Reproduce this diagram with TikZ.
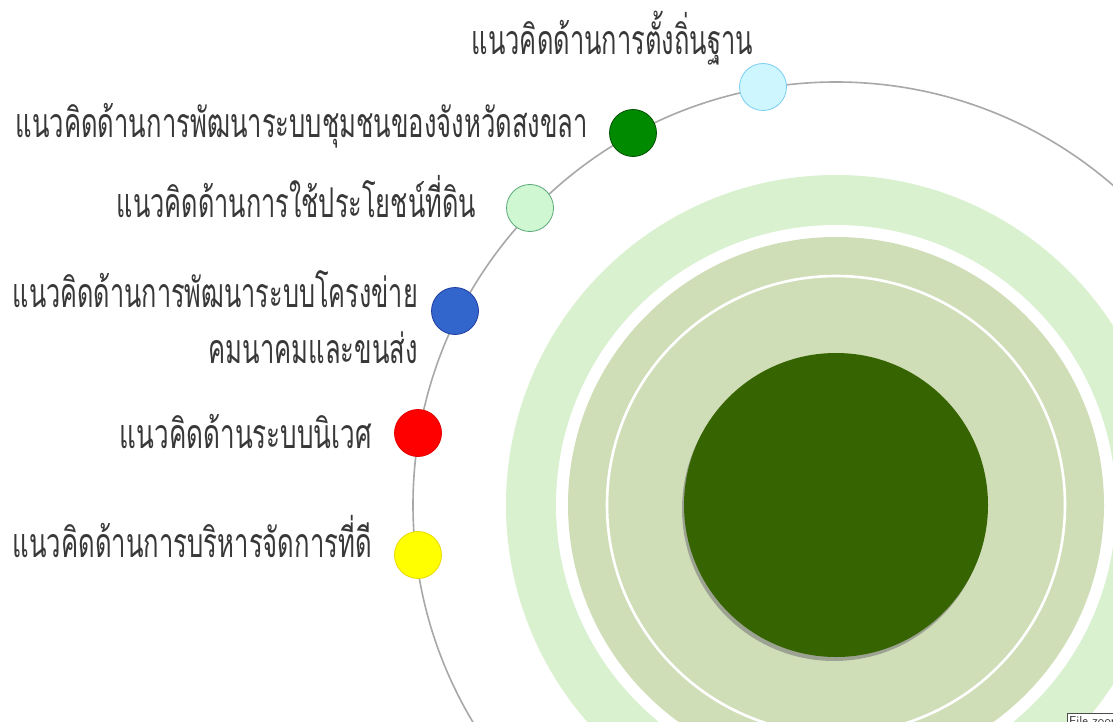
\documentclass[tikz,border=0pt]{standalone}
\usepackage{fontspec}
\usepackage{graphicx}
\newfontfamily\thai[Script=Thai]{Loma}
\newlength\thaiht
\definecolor{ringlight}{HTML}{D9F1CF}
\definecolor{ringsage}{HTML}{D0DEB8}
\definecolor{coregreen}{HTML}{366400}
\definecolor{arcgray}{HTML}{A8A8A8}
\definecolor{txt}{HTML}{383838}
\begin{document}
{\thai\fontsize{40pt}{48pt}\selectfont\global\thaiht=\fontcharht\font"0E19\relax}
\pgfmathsetmacro\thaisz{40*23/\thaiht}
\newcommand\tl[2]{\resizebox{#1}{\height}{\thai\fontsize{\thaisz pt}{\thaisz pt}\selectfont #2}}
\begin{tikzpicture}[x=1pt,y=-1pt,
  dot/.style={circle, minimum size=47pt, inner sep=0pt, line width=0.8pt},
  lbl/.style={anchor=base east, inner sep=0pt, text=txt},
  arcline/.style={draw=arcgray, line width=1.6pt}]
\useasboundingbox (0,0) rectangle (1113,722);
\clip (0,0) rectangle (1113,722);
\fill[white] (0,0) rectangle (1113,722);
% concentric rings
\fill[ringlight] (836,505) circle (330pt);
\fill[white] (836,505) circle (280pt);
\fill[ringsage] (836,505) circle (268pt);
\draw[white, line width=2.6pt] (836,505) circle (229pt);
\fill[black!55, opacity=0.55] (834,509) circle (152pt);
\node[circle, fill=coregreen, minimum size=304pt, inner sep=0pt] (core) at (836,505) {};
% orbit
\draw[arcline] (836,505) circle (423pt);
% small circles
\node[dot, fill={rgb,255:red,206;green,246;blue,255}, draw={rgb,255:red,120;green,205;blue,240}] (c1) at (763,87) {};
\node[dot, fill={rgb,255:red,0;green,138;blue,0}, draw={rgb,255:red,0;green,80;blue,0}] (c2) at (633,133) {};
\node[dot, fill={rgb,255:red,206;green,247;blue,210}, draw={rgb,255:red,90;green,168;blue,120}] (c3) at (530,208) {};
\node[dot, fill={rgb,255:red,51;green,102;blue,204}, draw={rgb,255:red,30;green,60;blue,160}] (c4) at (455,311) {};
\node[dot, fill={rgb,255:red,255;green,0;blue,0}, draw={rgb,255:red,225;green,0;blue,0}] (c5) at (418,433) {};
\node[dot, fill={rgb,255:red,255;green,255;blue,0}, draw={rgb,255:red,232;green,216;blue,0}] (c6) at (418,555) {};
% labels
\node[lbl] (t1) at (753,55) {\tl{281pt}{แนวคิดด้านการตั้งถิ่นฐาน}};
\node[lbl] (t2) at (588,138) {\tl{572pt}{แนวคิดด้านการพัฒนาระบบชุมชนของจังหวัดสงขลา}};
\node[lbl] (t3) at (476,217) {\tl{359pt}{แนวคิดด้านการใช้ประโยชน์ที่ดิน}};
\node[lbl] (t4a) at (418,307) {\tl{405pt}{แนวคิดด้านการพัฒนาระบบโครงข่าย}};
\node[lbl] (t4b) at (418,363) {\tl{209pt}{คมนาคมและขนส่ง}};
\node[lbl] (t5) at (372,448) {\tl{252pt}{แนวคิดด้านระบบนิเวศ}};
\node[lbl] (t6) at (372,557) {\tl{359pt}{แนวคิดด้านการบริหารจัดการที่ดี}};
% corner tag (cut off by the picture edge)
\node[draw=black!70, fill=white, anchor=north west, inner xsep=2pt, inner ysep=3pt, text=black!80, font=\fontsize{13}{15}\selectfont\sffamily] (fz) at (1067,713) {File zoom};
\end{tikzpicture}
\end{document}
